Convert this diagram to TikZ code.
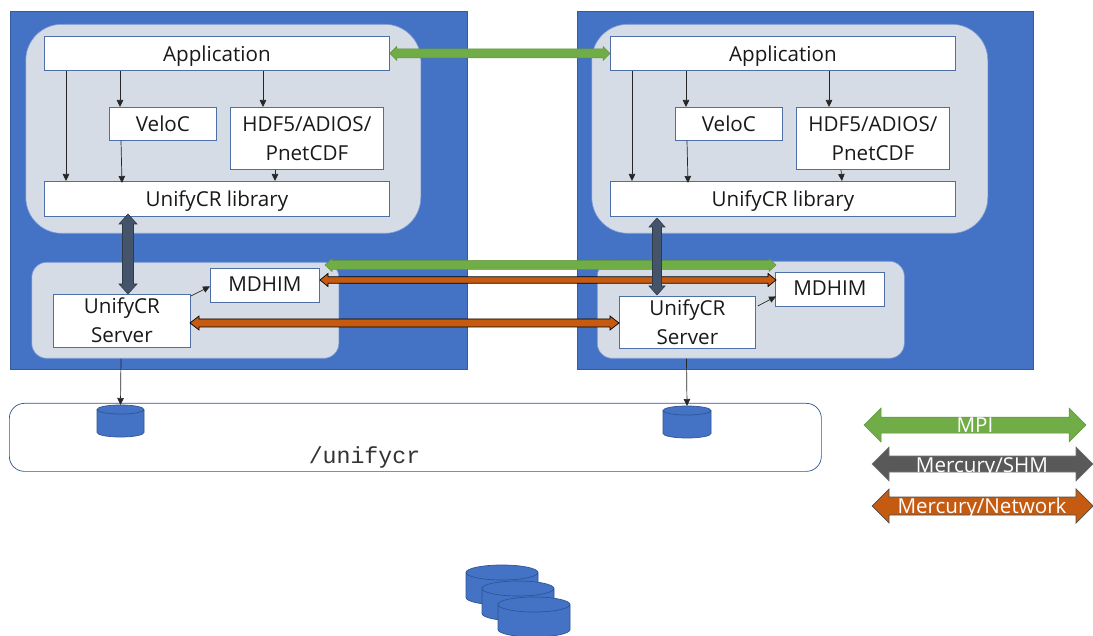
\documentclass[tikz,border=0pt]{standalone}
\usepackage{fontspec}
\setmainfont{Open Sans}
\newfontfamily\cmono{Liberation Mono}
\usetikzlibrary{calc,arrows.meta}
\definecolor{hostblue}{HTML}{4472C4}
\definecolor{panelgrey}{HTML}{D6DCE5}
\definecolor{edgeblue}{HTML}{2F5597}
\definecolor{mpigreen}{HTML}{70AD47}
\definecolor{shmslate}{HTML}{44546A}
\definecolor{shmgrey}{HTML}{595959}
\definecolor{netorange}{HTML}{C55A11}
\tikzset{
  host/.style={fill=hostblue,draw=hostblue!80!black,line width=.5pt,anchor=north west,inner sep=0pt},
  panel/.style={fill=panelgrey,draw=hostblue!70!white,line width=.6pt,anchor=north west,inner sep=0pt},
  sw/.style={fill=white,draw=edgeblue!85!white,line width=.8pt,anchor=north west,inner sep=0pt,align=center,
    font=\fontsize{20.6}{29}\selectfont,text=black!90},
  flow/.style={-{Triangle[length=7pt,width=6.5pt]},line width=.7pt,black!85},
  disk/.style={draw=edgeblue,line width=.7pt,fill=hostblue},
  bmpi/.style={fill=mpigreen,draw=mpigreen!85!black,line width=.5pt},
  bshm/.style={fill=shmslate,draw=shmslate!70!black,line width=.6pt},
  bnet/.style={fill=netorange,draw=black,line width=.7pt},
  legend/.style={text=white,font=\fontsize{20.6}{24}\selectfont,inner sep=0pt},
}
% #1,#2 end points, #3 shaft half width, #4 head half width, #5 head length, #6 style
\newcommand\blockarrow[6]{%
  \coordinate (bap) at ($(#1)!#5!(#2)$);
  \coordinate (baq) at ($(#2)!#5!(#1)$);
  \draw[#6,line join=miter] (#1) -- ($(bap)!#4!90:(#2)$) -- ($(bap)!#3!90:(#2)$)
    -- ($(baq)!#3!-90:(#1)$) -- ($(baq)!#4!-90:(#1)$) -- (#2)
    -- ($(baq)!#4!90:(#1)$) -- ($(baq)!#3!90:(#1)$)
    -- ($(bap)!#3!-90:(#2)$) -- ($(bap)!#4!-90:(#2)$) -- cycle;
}
% #1 name (top centre), #2 x centre, #3 top y, #4 x radius, #5 y radius, #6 total height
\newcommand\diskshape[6]{%
  \coordinate (#1) at (#2,#3);
  \draw[disk] (#2-#4,#3+#5) -- (#2-#4,#3+#6-#5)
    arc[start angle=180,end angle=360,x radius=#4,y radius=-#5]
    -- (#2+#4,#3+#5)
    arc[start angle=0,end angle=180,x radius=#4,y radius=-#5]
    arc[start angle=180,end angle=360,x radius=#4,y radius=-#5];
}
\begin{document}
\begin{tikzpicture}[x=1pt,y=-1pt]
\useasboundingbox (0,0) rectangle (1093,636);
% hosts
\node[host,minimum width=457pt,minimum height=358pt] (hostL) at (10,11) {};
\node[host,minimum width=456pt,minimum height=358pt] (hostR) at (577,11) {};
% panels
\node[panel,rounded corners=36pt,minimum width=395pt,minimum height=209pt] (upL) at (25.5,24) {};
\node[panel,rounded corners=36pt,minimum width=396pt,minimum height=209pt] (upR) at (591.5,24) {};
\node[panel,rounded corners=15pt,minimum width=307pt,minimum height=96pt] (lowL) at (31.5,262) {};
\node[panel,rounded corners=15pt,minimum width=307pt,minimum height=97pt] (lowR) at (597,261) {};
% left column
\node[sw,text depth=0pt,minimum width=345pt,minimum height=34pt] (appL) at (44,36) {Application};
\node[sw,minimum width=107pt,minimum height=33pt] (velL) at (109,107) {VeloC};
\node[sw,minimum width=153pt,minimum height=62pt] (hdfL) at (230,107) {HDF5/ADIOS/\\PnetCDF};
\node[sw,text depth=0pt,minimum width=345pt,minimum height=35pt] (libL) at (44,181) {UnifyCR library};
\node[sw,text depth=2pt,minimum width=109pt,minimum height=34pt] (mdL) at (210,268) {MDHIM};
\node[sw,minimum width=137pt,minimum height=53pt] (srvL) at (53,294) {\raisebox{1.5pt}{UnifyCR}\\\raisebox{1.5pt}{Server}};
% right column
\node[sw,text depth=0pt,minimum width=345pt,minimum height=34pt] (appR) at (610,36) {Application};
\node[sw,minimum width=107pt,minimum height=33pt] (velR) at (675,107) {VeloC};
\node[sw,minimum width=153pt,minimum height=62pt] (hdfR) at (796,107) {HDF5/ADIOS/\\PnetCDF};
\node[sw,text depth=0pt,minimum width=345pt,minimum height=35pt] (libR) at (610,181) {UnifyCR library};
\node[sw,text depth=2pt,minimum width=109pt,minimum height=34pt] (mdR) at (775,272) {MDHIM};
\node[sw,minimum width=136pt,minimum height=52pt] (srvR) at (619,296) {UnifyCR\\Server};
% shared file system
\node[anchor=north west,draw=edgeblue,fill=white,line width=.7pt,rounded corners=15pt,minimum width=812pt,minimum height=68pt,inner sep=0pt] (ufs) at (9,403) {};
\node[inner sep=0pt,text=black!80,font=\cmono\fontsize{23.2}{26}\selectfont] (ufslabel) at (364.5,458) {/unifycr};
\diskshape{dL}{120.5}{405}{23.5}{4.5}{32}
\diskshape{dR}{687}{406}{24}{4.5}{32}
% parallel file system
\diskshape{p1}{502}{565}{36}{7.5}{40}
\diskshape{p2}{518}{581}{36}{7.5}{40}
\diskshape{p3}{534}{597}{36}{7.5}{40}
% thin flows, left
\draw[flow] ([xshift=22pt]appL.south west) -- ([xshift=22pt]libL.north west);
\draw[flow] ([xshift=76pt]appL.south west) -- ([xshift=11pt]velL.north west);
\draw[flow] ([xshift=219pt]appL.south west) -- ([xshift=33pt]hdfL.north west);
\draw[flow] ([xshift=12pt]velL.south west) -- ([xshift=78pt,yshift=-2pt]libL.north west);
\draw[flow] ([xshift=45pt]hdfL.south west) -- ([xshift=231pt]libL.north west);
\draw[flow] ([yshift=-2pt]srvL.north east) -- ([yshift=-1pt]mdL.west);
% thin flows, right
\draw[flow] ([xshift=22pt]appR.south west) -- ([xshift=22pt]libR.north west);
\draw[flow] ([xshift=76pt]appR.south west) -- ([xshift=11pt]velR.north west);
\draw[flow] ([xshift=219pt]appR.south west) -- ([xshift=33pt]hdfR.north west);
\draw[flow] ([xshift=12pt]velR.south west) -- ([xshift=78pt,yshift=-2pt]libR.north west);
\draw[flow] ([xshift=45pt]hdfR.south west) -- ([xshift=232pt]libR.north west);
\draw[flow] ([xshift=2pt,yshift=-10pt]srvR.north east) -- ([xshift=1pt,yshift=-7pt]mdR.west);
% to disks
\draw[flow] ([xshift=89.5pt]lowL.south west) -- (dL);
\draw[flow] ([xshift=89.5pt]lowR.south west) -- (dR);
% block arrows
\coordinate (gmA) at (325,265); \coordinate (gmB) at (776,265);
\coordinate (onA) at (320,280); \coordinate (onB) at (776,280);
\coordinate (osA) at (190,323); \coordinate (osB) at (619,323);
\coordinate (dkLa) at (128,214); \coordinate (dkLb) at (128,294);
\coordinate (dkRa) at (657,218); \coordinate (dkRb) at (657,295);
\blockarrow{appL.east}{appR.west}{4.5pt}{7pt}{7pt}{bmpi}
\blockarrow{gmA}{gmB}{4.5pt}{6.5pt}{7pt}{bmpi}
\blockarrow{onA}{onB}{3.2pt}{6.5pt}{8pt}{bnet}
\blockarrow{osA}{osB}{4pt}{7pt}{9pt}{bnet}
\blockarrow{dkLa}{dkLb}{5.5pt}{9pt}{10pt}{bshm}
\blockarrow{dkRa}{dkRb}{4.5pt}{8pt}{9pt}{bshm}
% legend
\coordinate (lgAa) at (864,425); \coordinate (lgAb) at (1086,425);
\coordinate (lgBa) at (872,464); \coordinate (lgBb) at (1093,464);
\coordinate (lgCa) at (872,506); \coordinate (lgCb) at (1093,506);
\blockarrow{lgAa}{lgAb}{8pt}{17pt}{17pt}{bmpi}
\blockarrow{lgBa}{lgBb}{8pt}{17pt}{17pt}{fill=shmgrey,draw=black!55,line width=.6pt}
\blockarrow{lgCa}{lgCb}{9pt}{17pt}{17pt}{bnet,draw=black!70}
\node[legend] (lgA) at (975,425) {MPI};
\node[legend,text depth=0pt] (lgB) at (982,465) {Mercury/SHM};
\node[legend,text depth=0pt] (lgC) at (982,506) {Mercury/Network};
\end{tikzpicture}
\end{document}
